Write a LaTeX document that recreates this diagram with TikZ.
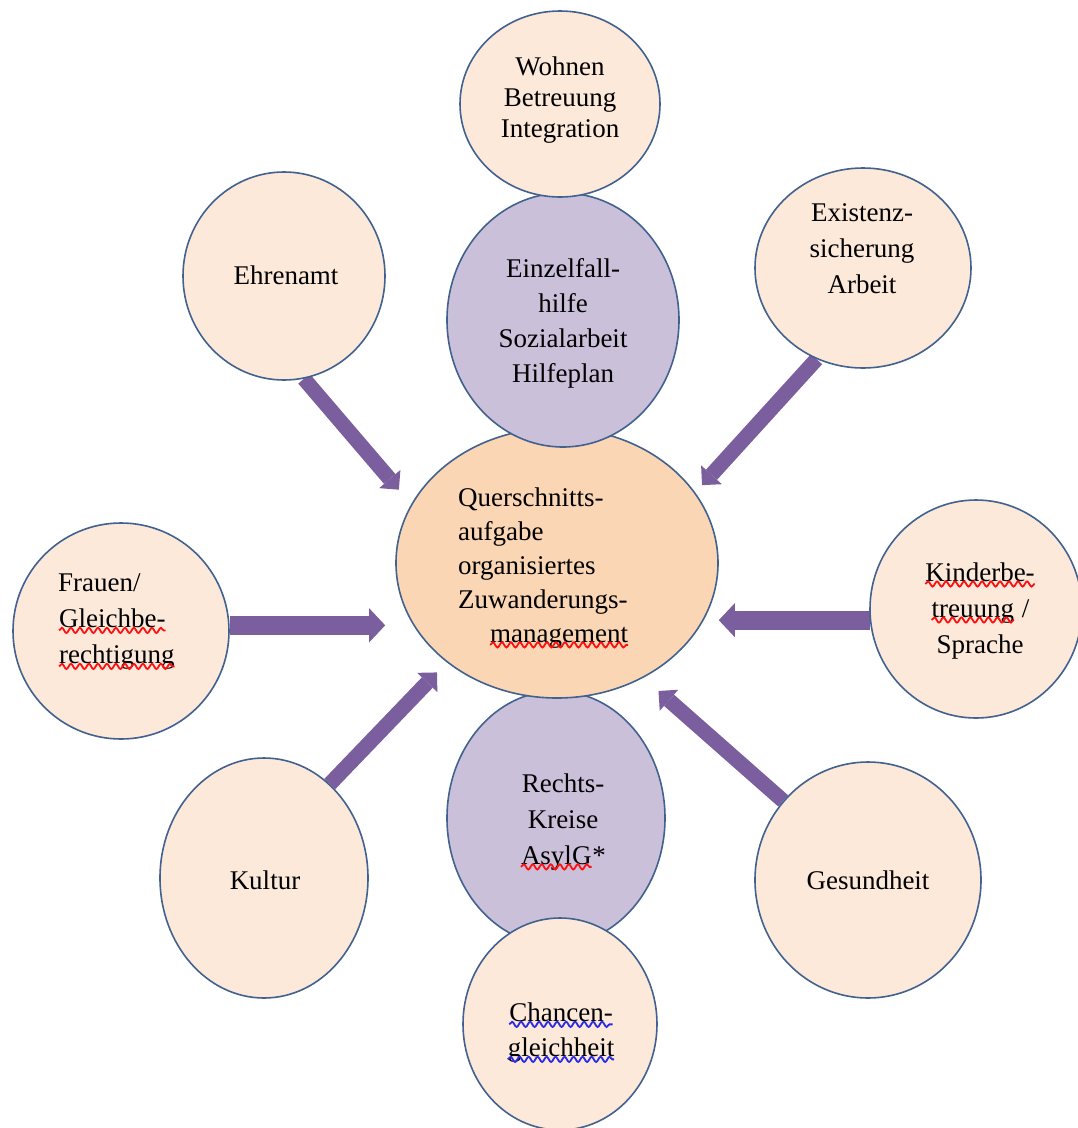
\documentclass[tikz,border=0pt]{standalone}
\usepackage{fontspec}
\setmainfont{Liberation Serif}
\usetikzlibrary{arrows.meta,shapes.geometric,decorations.pathmorphing,backgrounds}
\definecolor{peach}{HTML}{FCE9DA}
\definecolor{orangefill}{HTML}{FAD6B4}
\definecolor{lilac}{HTML}{CBC0DA}
\definecolor{rim}{HTML}{41618F}
\definecolor{arrowpurple}{HTML}{7A5E9D}
\definecolor{arrowedge}{HTML}{5E4880}
\definecolor{spellred}{HTML}{FF1010}
\definecolor{spellblue}{HTML}{2A2AE6}
\newcommand\wavy[2]{\tikz[baseline=(wv.base)]{\node[inner sep=0pt,outer sep=0pt] (wv) {#2};\draw[#1,line width=1.8pt,decorate,decoration={snake,amplitude=2.6pt,segment length=9pt}] ([yshift=-2.5pt]wv.base west) -- ([yshift=-2.5pt]wv.base east);}}
\begin{document}
\begin{tikzpicture}[x=1pt,y=-1pt,
  bub/.style={ellipse,draw=rim,line width=1.6pt,inner sep=0pt},
  lt/.style={bub,fill=peach},
  pu/.style={bub,fill=lilac},
  txt/.style={align=center,inner sep=0pt,font=\fontsize{27}{34}\selectfont},
  darr/.style={draw=arrowpurple,line width=15pt,-{Triangle[width=28pt,length=14pt,line width=0pt]}},
  harr/.style={draw=arrowpurple,line width=19pt,-{Triangle[width=34pt,length=16pt,line width=0pt]}}]
\useasboundingbox (0,0) rectangle (1078,1128);
% central column (stacking order matters)
\node[pu,minimum width=218pt,minimum height=254pt] (rech) at (556,818) {};
\node[bub,fill=orangefill,minimum width=322pt,minimum height=270pt] (ctr) at (557,563) {};
\node[pu,minimum width=232pt,minimum height=254pt] (einz) at (563,320) {};
\node[lt,minimum width=200pt,minimum height=186pt] (wohn) at (560,104) {};
\node[lt,minimum width=194pt,minimum height=212pt] (chan) at (560,1024) {};
% outer bubbles
\node[lt,minimum width=202pt,minimum height=208pt] (ehr) at (284,276) {};
\node[lt,minimum width=216pt,minimum height=200pt] (exi) at (863,268) {};
\node[lt,minimum width=216pt,minimum height=216pt] (frau) at (121,631) {};
\node[lt,minimum width=212pt,minimum height=218pt] (kind) at (976,609) {};
\node[lt,minimum width=208pt,minimum height=240pt] (kul) at (264,878) {};
\node[lt,minimum width=226pt,minimum height=236pt] (ges) at (868,880) {};
% arrows (behind the bubbles)
\begin{scope}[on background layer]
\draw[darr,shorten >=19pt] (ehr.-79) -- (ctr.158);
\draw[darr,shorten >=10pt] (exi.-117) -- (ctr.27);
\draw[harr,shorten >=10pt] (frau.3) -- (frau.3 -| ctr.west);
\draw[harr] (kind.186) -- (kind.186 -| ctr.east);
\draw[darr,shorten >=14pt] (kul.55) -- (ctr.222);
\draw[darr,shorten >=20pt] (ges.137) -- (ctr.-53);
\end{scope}
% texts
\node[txt,font=\fontsize{27}{31}\selectfont] (wohn-t) at (560,100) {Wohnen\\Betreuung\\Integration};
\node[txt,font=\fontsize{27}{35}\selectfont] (einz-t) at (563,323) {Einzelfall-\\hilfe\\Sozialarbeit\\Hilfeplan};
\node[txt,align=left,anchor=west] (ctr-t) at (458,568) {Querschnitts-\\aufgabe\\organisiertes\\Zuwanderungs-\\\hspace*{1.15em}\wavy{spellred}{management}};
\node[txt,font=\fontsize{27}{36}\selectfont] (rech-t) at (563,822) {Rechts-\\Kreise\\\wavy{spellred}{AsylG}*};
\node[txt,font=\fontsize{27}{35}\selectfont] (chan-t) at (561,1033) {\wavy{spellblue}{Chancen-}\\\wavy{spellblue}{gleichheit}};
\node[txt] (ehr-t) at (286,275) {Ehrenamt};
\node[txt,font=\fontsize{27}{36}\selectfont] (exi-t) at (862,249) {Existenz-\\sicherung\\Arbeit};
\node[txt,align=left,anchor=west,font=\fontsize{27}{36}\selectfont] (frau-t) at (58,622) {Frauen/\\\wavy{spellred}{Gleichbe-}\\\wavy{spellred}{rechtigung}};
\node[txt,font=\fontsize{27}{36}\selectfont] (kind-t) at (980,611) {\wavy{spellred}{Kinderbe-}\\\wavy{spellred}{treuung} /\\Sprache};
\node[txt] (kul-t) at (265,880) {Kultur};
\node[txt] (ges-t) at (868,880) {Gesundheit};
\end{tikzpicture}
\end{document}
